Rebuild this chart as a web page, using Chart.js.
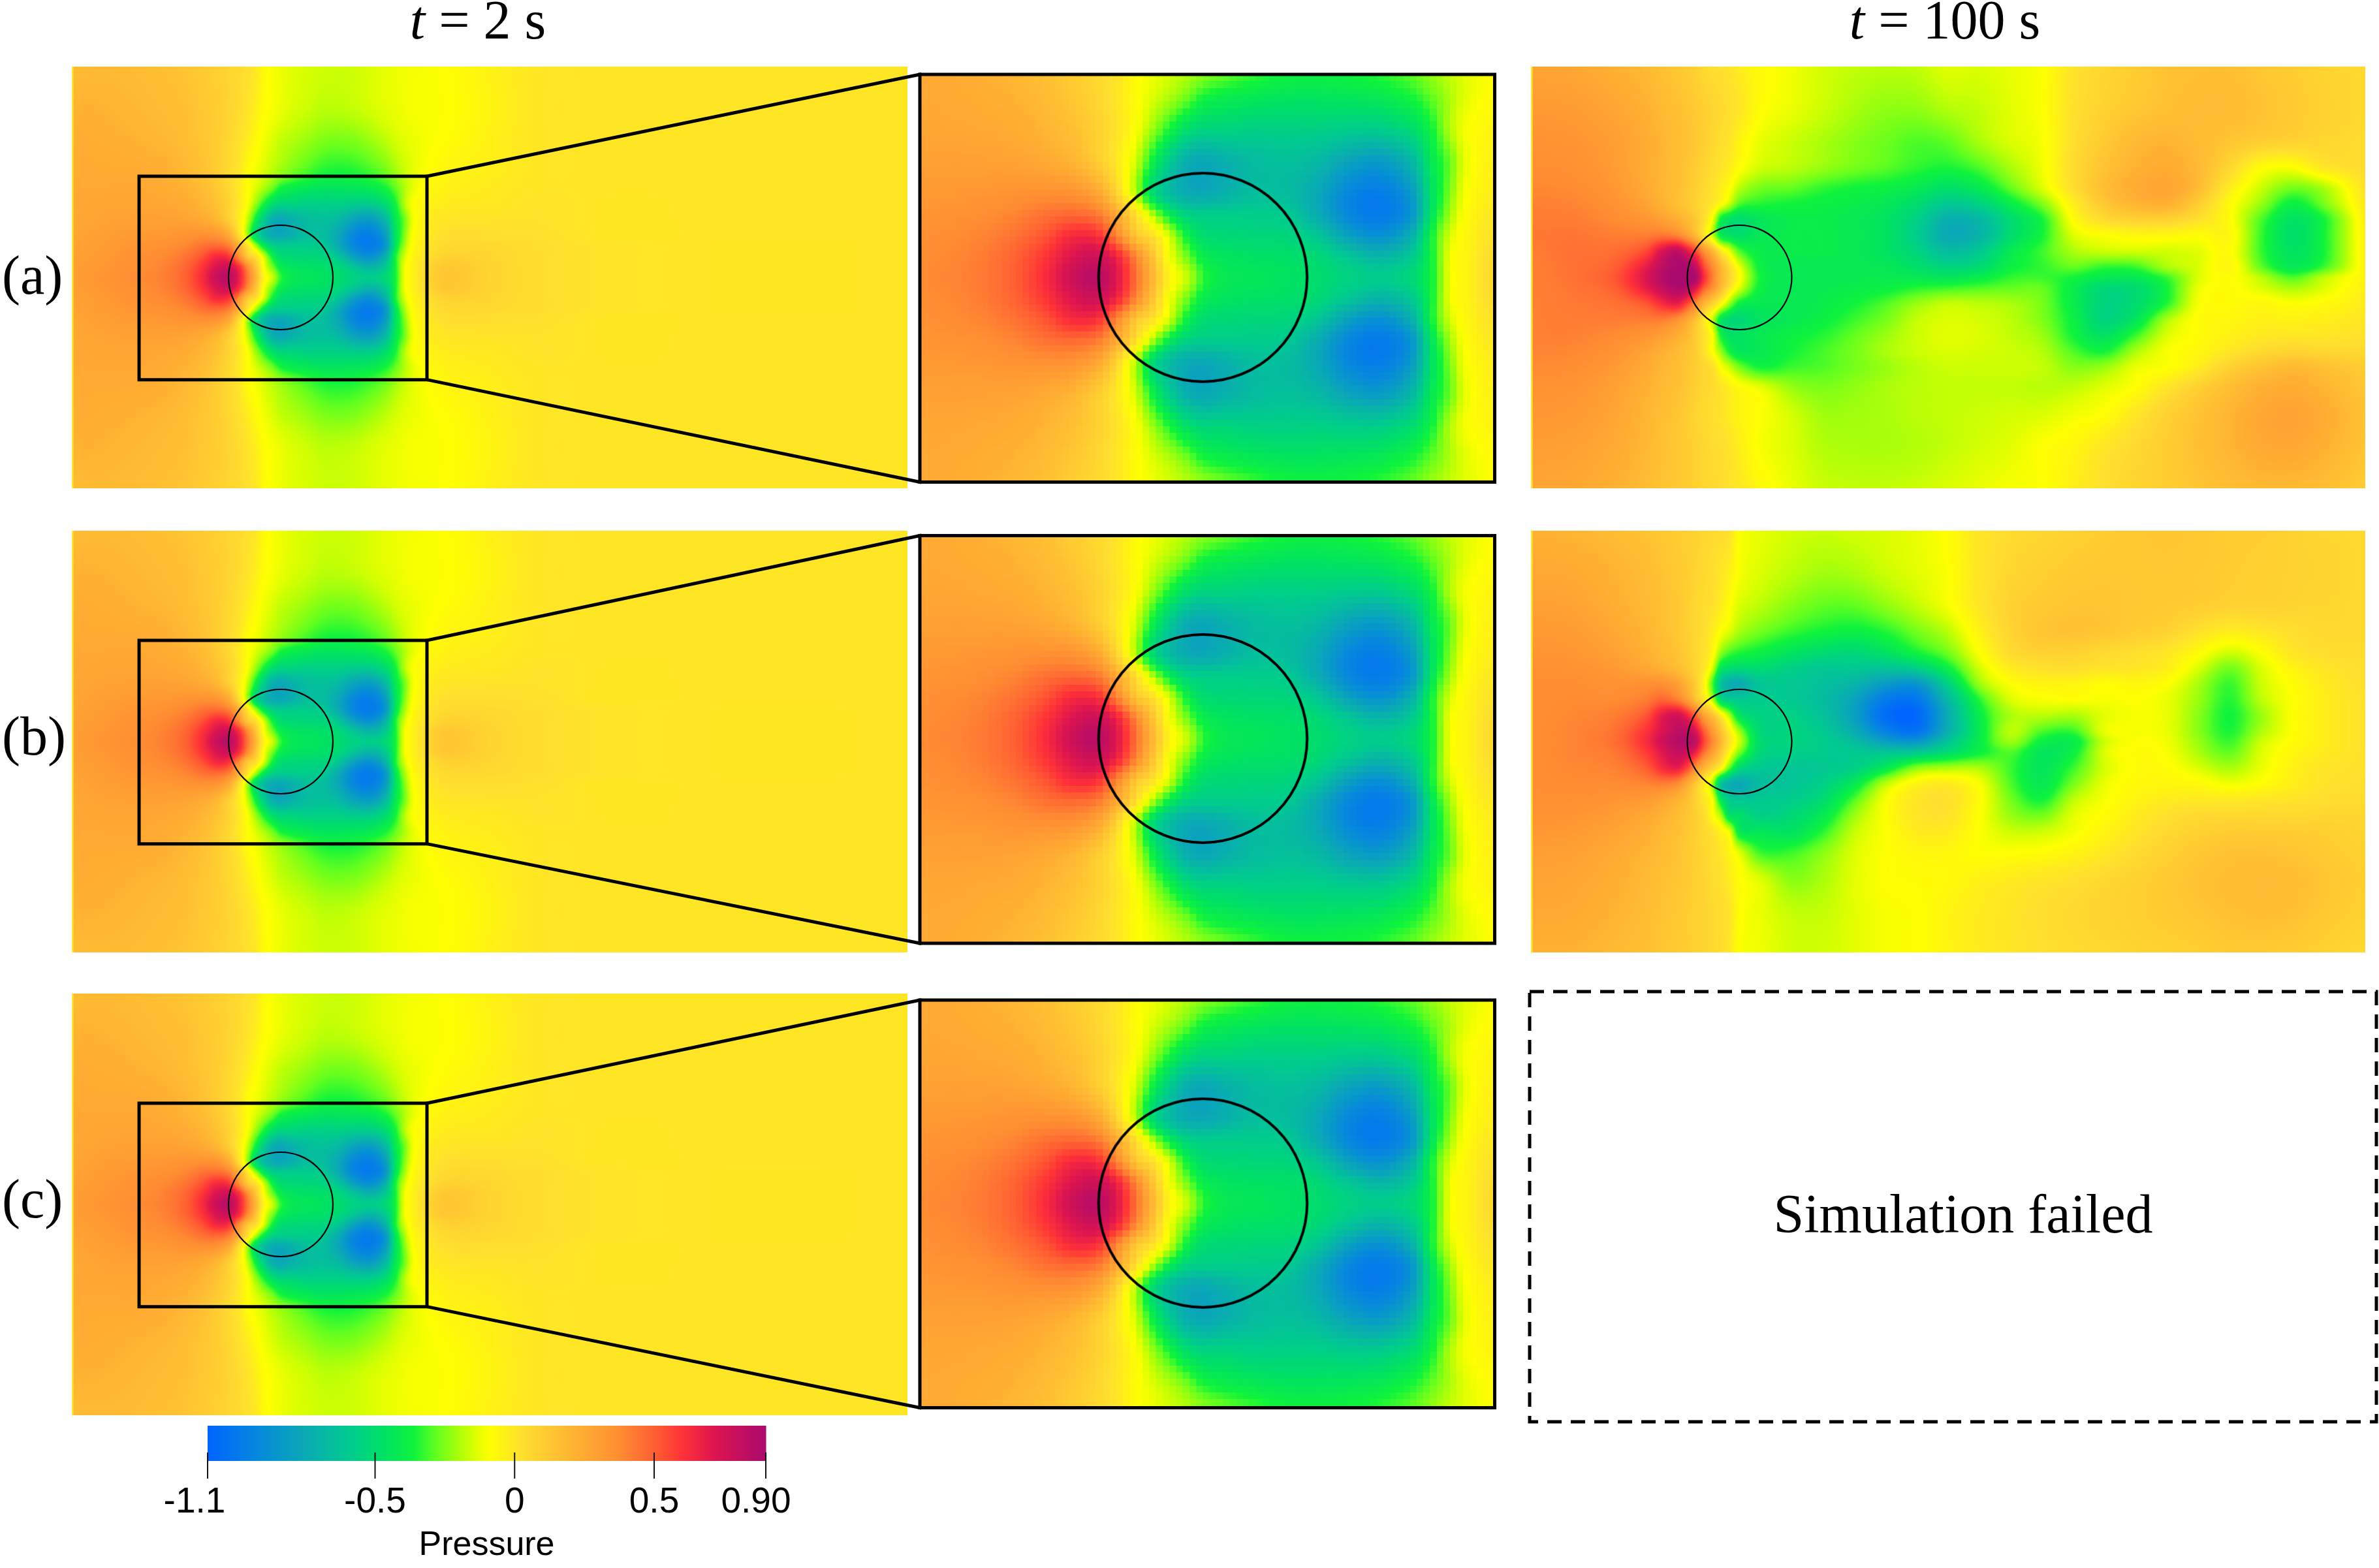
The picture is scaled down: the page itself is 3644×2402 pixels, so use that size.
<!DOCTYPE html>
<html>
<head>
<meta charset="utf-8">
<title>Pressure fields</title>
<script src="https://cdn.jsdelivr.net/npm/chart.js@4/dist/chart.umd.min.js"></script>
<style>
  html, body { margin:0; padding:0; background:#fff; width:3644px; height:2402px; overflow:hidden; }
  canvas { position:absolute; display:block; }
  .txt { position:absolute; font-family:"Liberation Serif",serif; font-size:84px; line-height:84px; color:#000; white-space:pre; }
  .txt i { font-style:italic; }
</style>
</head>
<body>
<div class="txt" style="left:732px;top:-11px;transform:translateX(-50%)"><i>t</i> = 2 s</div>
<div class="txt" style="left:2979px;top:-11px;transform:translateX(-50%)"><i>t</i> = 100 s</div>
<div class="txt" style="left:3px;top:380px">(a)</div>
<div class="txt" style="left:3px;top:1086px">(b)</div>
<div class="txt" style="left:3px;top:1795px">(c)</div>
<div class="txt" style="left:3007px;top:1818px;transform:translateX(-50%)">Simulation failed</div>
<script>
// ═══════════════════════════════════════════════════════════════
//  DATA  — pressure, x/y in cylinder diameters
// ═══════════════════════════════════════════════════════════════

const CMAP_VALUES = [-1.1, -0.95, -0.75, -0.58, -0.47, -0.36, -0.28, -0.2, -0.14, -0.09, 0.02, 0.14, 0.25, 0.38, 0.5, 0.6, 0.72, 0.9];
const CMAP_COLORS = [
  [0,100,255],[5,130,228],[10,170,180],[0,205,140],[0,225,100],[15,243,60],[100,255,30],[170,255,10],
  [220,255,0],[255,255,0],[255,225,45],[255,195,50],[255,170,50],[255,140,50],[255,95,50],[255,50,55],[220,20,80],[170,10,110]
];

const BAR_TICKS  = [-1.1, -0.5, 0, 0.5, 0.9];
const BAR_LABELS = ['-1.1', '-0.5', '0', '0.5', '0.90'];
const BAR_SHIFT  = [-20, 0, 0, 0, -15];

// t = 2 s: same field in all three rows, symmetric about y = 0, upper half kept
const X_T2 = [-2,-1.7,-1.36,-1.1,-.9,-.75,-.62,-.5,-.4,-.32,-.24,-.16,-.08,0,.1,.25,.4,.55,.7,.85,1,1.1,1.18,1.26,1.4,1.6,2,2.5,3,4,6];
const Y_T2_HALF = [2,1.6,1.3,.975,.85,.7,.55,.4,.3,.2,.1,0];
const P_T2_HALF = [
  [.17,.18,.17,.15,.13,.11,.09,.07,.05,.02,0,-.07,-.1,-.115,-.13,-.145,-.155,-.16,-.155,-.14,-.125,-.115,-.11,-.105,-.1,-.085,-.04,0,0,0,0],
  [.22,.21,.19,.17,.15,.12,.1,.07,.04,.01,-.03,-.08,-.1,-.12,-.14,-.16,-.18,-.18,-.17,-.15,-.13,-.12,-.11,-.1,-.1,-.09,-.05,0,0,0,0],
  [.24,.23,.21,.19,.16,.13,.1,.06,.02,-.02,-.07,-.11,-.14,-.17,-.19,-.22,-.25,-.26,-.25,-.22,-.18,-.15,-.13,-.12,-.1,-.08,-.04,0,0,0,0],
  [.25,.25,.25,.23,.19,.15,.1,.05,0,-.08,-.11,-.15,-.19,-.23,-.27,-.32,-.36,-.37,-.36,-.33,-.28,-.22,-.17,-.13,-.09,-.05,-.03,0,0,0,0],
  [.26,.26,.26,.24,.21,.17,.12,.06,-.01,-.08,-.14,-.2,-.27,-.36,-.4,-.43,-.45,-.45,-.44,-.42,-.36,-.28,-.2,-.13,-.07,-.04,-.02,0,0,0,0],
  [.26,.27,.27,.26,.24,.2,.15,.08,0,-.09,-.22,-.36,-.48,-.54,-.54,-.56,-.56,-.56,-.58,-.58,-.5,-.36,-.2,-.1,-.05,-.02,-.01,.01,0,0,0],
  [.26,.28,.29,.29,.28,.25,.2,.1,-.02,-.16,-.38,-.58,-.72,-.76,-.72,-.66,-.64,-.68,-.78,-.82,-.68,-.42,-.28,-.12,-.03,0,.01,.01,0,0,0],
  [.27,.3,.32,.33,.35,.36,.35,.26,.04,-.2,-.5,-.66,-.74,-.76,-.72,-.65,-.66,-.76,-.92,-.97,-.82,-.46,-.26,-.1,-.02,.03,.03,.02,0,0,0],
  [.28,.31,.34,.36,.4,.45,.47,.42,.22,.02,-.2,-.42,-.55,-.58,-.58,-.58,-.6,-.74,-.92,-.98,-.85,-.44,-.22,-.08,0,.05,.05,.03,.01,0,0],
  [.29,.32,.36,.39,.45,.53,.63,.6,.36,.12,.02,-.16,-.38,-.5,-.52,-.53,-.54,-.62,-.8,-.88,-.72,-.36,-.16,-.06,.02,.08,.06,.03,.01,0,0],
  [.3,.33,.37,.41,.49,.6,.72,.76,.62,.38,.14,-.1,-.26,-.4,-.45,-.47,-.48,-.52,-.62,-.7,-.6,-.36,-.12,-.05,.05,.12,.07,.03,.01,0,0],
  [.3,.34,.38,.42,.5,.63,.78,.84,.68,.45,.2,-.05,-.16,-.33,-.42,-.44,-.46,-.5,-.55,-.58,-.52,-.36,-.12,-.05,.06,.13,.07,.03,.01,0,0]
];

// t = 100 s, rows (a) and (b)
const X_T100 = [-2,-1.6,-1.2,-.9,-.75,-.6,-.5,-.42,-.34,-.26,-.18,-.1,0,.2,.5,.8,1.1,1.4,1.7,2,2.3,2.6,2.9,3.2,3.5,3.8,4.1,4.4,4.7,5,5.3,5.6,6];
const Y_T100 = [2,1.6,1.3,1.05,.85,.7,.55,.4,.25,.1,0,-.1,-.25,-.4,-.55,-.7,-.85,-1.05,-1.3,-1.6,-2];
const P_T100_A = [
  [.27,.26,.22,.18,.15,.12,.1,.08,.05,.03,.02,.01,-.02,-.07,-.11,-.15,-.17,-.18,-.17,-.13,-.14,-.12,-.09,.01,.06,.1,.14,.15,.15,.12,.1,.07,.05],
  [.32,.31,.27,.22,.18,.15,.13,.11,.09,.07,.05,.03,0,-.08,-.12,-.16,-.2,-.23,-.23,-.19,-.17,-.13,-.09,.02,.08,.12,.15,.17,.17,.14,.11,.08,.05],
  [.35,.34,.3,.24,.2,.16,.14,.12,.09,.06,.03,.01,-.05,-.12,-.16,-.2,-.24,-.27,-.3,-.28,-.2,-.14,-.1,.03,.11,.18,.2,.17,.13,.1,.08,.06,.04],
  [.37,.36,.31,.24,.2,.16,.13,.1,.07,.04,.01,-.02,-.08,-.15,-.18,-.22,-.26,-.29,-.33,-.35,-.3,-.2,-.11,.04,.14,.21,.24,.18,.06,-.07,-.09,0,.04],
  [.39,.38,.33,.25,.2,.16,.12,.09,.05,.02,-.03,-.08,-.18,-.26,-.28,-.33,-.36,-.38,-.42,-.48,-.42,-.28,-.14,.03,.16,.24,.27,.17,-.02,-.16,-.26,-.2,.02],
  [.41,.4,.35,.28,.22,.16,.12,.08,.04,0,-.07,-.16,-.3,-.34,-.36,-.38,-.4,-.43,-.5,-.6,-.55,-.4,-.25,-.03,.12,.2,.22,.1,-.07,-.22,-.38,-.26,0],
  [.42,.42,.38,.34,.3,.24,.18,.12,.03,-.1,-.38,-.46,-.5,-.44,-.4,-.4,-.42,-.46,-.56,-.72,-.68,-.5,-.36,-.08,.04,.08,.08,.02,-.08,-.3,-.46,-.36,-.02],
  [.43,.44,.42,.42,.44,.4,.3,.18,.02,-.16,-.4,-.46,-.48,-.43,-.4,-.4,-.42,-.46,-.58,-.75,-.7,-.5,-.36,-.14,-.09,-.06,-.06,-.08,-.06,-.32,-.48,-.36,-.03],
  [.42,.45,.46,.55,.72,.82,.7,.55,.35,.2,0,-.12,-.3,-.4,-.4,-.4,-.42,-.46,-.54,-.66,-.6,-.42,-.32,-.2,-.16,-.15,-.15,-.13,-.08,-.32,-.46,-.36,-.03],
  [.41,.45,.5,.68,.82,.9,.9,.8,.55,.38,.2,.05,-.12,-.38,-.42,-.42,-.42,-.43,-.48,-.54,-.5,-.38,-.33,-.28,-.33,-.32,-.2,-.14,-.06,-.28,-.42,-.32,-.04],
  [.41,.45,.52,.72,.85,.92,.92,.88,.62,.42,.22,.08,-.08,-.36,-.42,-.42,-.41,-.41,-.42,-.44,-.4,-.33,-.32,-.36,-.42,-.42,-.32,-.14,-.08,-.18,-.3,-.18,-.04],
  [.41,.44,.5,.68,.8,.88,.85,.72,.5,.35,.18,.02,-.14,-.38,-.42,-.41,-.4,-.38,-.34,-.32,-.3,-.28,-.28,-.4,-.52,-.5,-.36,-.12,-.08,-.14,-.2,-.14,-.03],
  [.41,.43,.45,.52,.62,.68,.55,.38,.2,.08,-.06,-.22,-.38,-.42,-.42,-.4,-.36,-.3,-.22,-.17,-.18,-.2,-.26,-.4,-.54,-.5,-.34,-.1,-.08,-.06,-.09,-.07,-.02],
  [.41,.42,.42,.42,.42,.36,.26,.15,0,-.16,-.42,-.5,-.52,-.46,-.42,-.38,-.32,-.26,-.17,-.14,-.15,-.18,-.25,-.38,-.54,-.44,-.2,-.08,-.06,-.04,-.04,-.03,0],
  [.41,.41,.38,.34,.3,.24,.18,.1,.02,-.09,-.36,-.46,-.46,-.42,-.38,-.34,-.28,-.22,-.16,-.13,-.14,-.17,-.22,-.36,-.46,-.32,-.14,-.08,-.04,-.01,0,0,.02],
  [.4,.39,.35,.28,.23,.18,.14,.1,.02,-.09,-.22,-.36,-.44,-.42,-.36,-.31,-.26,-.2,-.16,-.14,-.15,-.16,-.19,-.3,-.36,-.2,-.1,-.06,0,.05,.07,.06,.05],
  [.38,.37,.32,.25,.2,.16,.13,.1,.06,.03,-.09,-.16,-.26,-.36,-.32,-.3,-.26,-.22,-.18,-.16,-.16,-.16,-.17,-.24,-.22,-.12,-.09,-.02,.08,.14,.18,.15,.1],
  [.35,.34,.29,.22,.18,.15,.12,.09,.06,.04,.01,-.03,-.07,-.12,-.22,-.25,-.23,-.2,-.18,-.17,-.17,-.17,-.18,-.17,-.13,-.08,.01,.09,.16,.22,.24,.2,.12],
  [.33,.32,.27,.2,.16,.13,.1,.07,.05,.03,.01,-.02,-.05,-.09,-.15,-.21,-.21,-.2,-.18,-.17,-.16,-.15,-.14,-.11,-.08,0,.08,.14,.2,.26,.28,.24,.14],
  [.3,.29,.25,.19,.15,.12,.1,.08,.06,.04,.03,.01,-.03,-.1,-.14,-.19,-.2,-.2,-.19,-.17,-.15,-.13,-.09,-.06,0,.05,.1,.15,.2,.25,.26,.22,.13],
  [.27,.26,.22,.17,.14,.12,.1,.08,.06,.05,.04,.02,0,-.06,-.12,-.16,-.17,-.17,-.16,-.14,-.12,-.1,-.09,-.03,.03,.07,.1,.13,.16,.18,.18,.16,.1]
];
const P_T100_B = [
  [.22,.2,.17,.14,.12,.1,.09,.08,.06,.05,.04,.02,-.09,-.12,-.15,-.16,-.15,-.14,-.12,-.08,0,.04,.06,.08,.1,.12,.13,.12,.1,.1,.08,.06,.05],
  [.26,.25,.21,.17,.14,.11,.09,.07,.05,.03,0,-.03,-.1,-.14,-.18,-.21,-.2,-.16,-.13,-.09,0,.06,.09,.11,.12,.12,.12,.11,.1,.09,.08,.07,.05],
  [.29,.28,.23,.18,.15,.12,.09,.06,.04,.02,-.02,-.08,-.14,-.18,-.24,-.28,-.28,-.23,-.17,-.1,0,.08,.11,.13,.13,.12,.11,.1,.08,.08,.07,.06,.05],
  [.32,.31,.26,.2,.16,.12,.09,.06,.03,-.02,-.09,-.13,-.2,-.26,-.32,-.36,-.38,-.34,-.26,-.18,-.04,.07,.13,.14,.13,.1,.08,.02,-.02,0,.03,.05,.05],
  [.34,.33,.29,.22,.18,.14,.1,.06,.02,-.06,-.22,-.3,-.34,-.38,-.45,-.5,-.52,-.46,-.36,-.26,-.09,.04,.08,.08,.05,.03,0,-.07,-.15,-.09,0,.03,.04],
  [.36,.35,.32,.26,.22,.17,.12,.07,0,-.14,-.42,-.48,-.5,-.5,-.56,-.6,-.6,-.62,-.56,-.38,-.15,-.02,.02,.03,.01,0,-.03,-.14,-.26,-.14,-.05,0,.03],
  [.37,.37,.35,.36,.36,.3,.2,.1,-.05,-.3,-.62,-.72,-.74,-.62,-.6,-.64,-.7,-.82,-.85,-.55,-.22,-.09,-.05,-.05,-.08,-.06,-.09,-.2,-.32,-.16,-.08,-.02,.03],
  [.37,.38,.38,.42,.48,.42,.3,.15,0,-.18,-.5,-.58,-.6,-.58,-.6,-.66,-.78,-.98,-1,-.68,-.34,-.14,-.1,-.09,-.1,-.09,-.12,-.22,-.34,-.18,-.09,-.03,.02],
  [.37,.39,.42,.52,.68,.75,.65,.48,.28,.15,-.02,-.2,-.45,-.55,-.56,-.64,-.8,-1.05,-1.08,-.74,-.4,-.2,-.18,-.2,-.13,-.1,-.12,-.24,-.36,-.22,-.09,-.03,.02],
  [.37,.4,.45,.6,.72,.82,.82,.72,.5,.32,.15,-.02,-.22,-.52,-.54,-.6,-.74,-.95,-1.02,-.72,-.42,-.18,-.3,-.32,-.12,-.1,-.12,-.24,-.35,-.2,-.09,-.03,.02],
  [.37,.4,.46,.62,.76,.85,.86,.8,.56,.38,.2,.02,-.16,-.5,-.54,-.58,-.66,-.8,-.84,-.62,-.4,-.22,-.38,-.4,-.16,-.09,-.11,-.22,-.32,-.16,-.08,-.03,.02],
  [.37,.4,.44,.58,.7,.8,.78,.66,.46,.3,.12,-.05,-.25,-.52,-.56,-.58,-.6,-.62,-.6,-.5,-.38,-.3,-.44,-.38,-.14,-.08,-.1,-.2,-.28,-.14,-.06,-.02,.02],
  [.37,.39,.41,.5,.62,.68,.55,.36,.2,.08,-.05,-.28,-.5,-.6,-.62,-.6,-.56,-.42,-.24,-.2,-.2,-.32,-.44,-.32,-.15,-.08,-.08,-.14,-.2,-.12,-.04,0,.02],
  [.37,.38,.38,.4,.42,.38,.25,.12,-.02,-.2,-.6,-.72,-.76,-.66,-.62,-.56,-.42,-.18,-.05,-.02,-.1,-.3,-.42,-.26,-.12,-.07,-.06,-.07,-.11,-.08,-.03,.01,.03],
  [.36,.36,.34,.32,.28,.22,.16,.08,0,-.1,-.42,-.58,-.62,-.6,-.58,-.5,-.3,-.1,0,.02,-.08,-.26,-.36,-.18,-.1,-.05,-.02,-.01,-.01,0,.01,.03,.04],
  [.35,.34,.31,.26,.22,.17,.13,.09,.04,-.08,-.2,-.46,-.48,-.56,-.52,-.42,-.22,-.09,0,.01,-.09,-.22,-.26,-.13,-.08,-.02,.02,.05,.05,.05,.05,.06,.06],
  [.33,.32,.28,.23,.19,.15,.12,.09,.05,.02,-.05,-.12,-.42,-.44,-.46,-.34,-.17,-.09,-.02,-.02,-.09,-.16,-.16,-.11,-.05,0,.05,.08,.1,.1,.1,.09,.07],
  [.3,.29,.25,.2,.17,.14,.11,.09,.06,.03,0,-.05,-.14,-.32,-.32,-.24,-.14,-.09,-.06,-.06,-.09,-.09,-.08,-.05,-.01,.04,.08,.12,.14,.14,.13,.11,.08],
  [.28,.27,.23,.18,.15,.13,.11,.09,.07,.04,.02,-.02,-.08,-.14,-.24,-.2,-.13,-.09,-.08,-.07,-.04,-.02,0,.02,.05,.08,.11,.14,.16,.17,.16,.13,.09],
  [.26,.25,.21,.17,.14,.12,.1,.08,.07,.05,.03,.01,-.08,-.12,-.17,-.17,-.13,-.1,-.09,-.05,-.02,0,.03,.05,.07,.09,.11,.13,.15,.16,.15,.12,.08],
  [.22,.21,.18,.15,.13,.11,.1,.08,.07,.05,.03,0,-.09,-.11,-.15,-.15,-.13,-.1,-.09,-.05,-.02,0,.02,.04,.05,.07,.08,.09,.11,.11,.1,.08,.05]
];

// Zoom window shown in the middle column, in the same data units
const BOX_X = [-1.356, 1.4];
const BOX_Y = [-0.97, 0.96];
const BOX_PATH_X = [BOX_X[0], BOX_X[1], BOX_X[1], BOX_X[0], BOX_X[0]];
const BOX_PATH_Y = [BOX_Y[1], BOX_Y[1], BOX_Y[0], BOX_Y[0], BOX_Y[1]];

// ═══════════════════════════════════════════════════════════════
//  PAGE LAYOUT  (pixels)
// ═══════════════════════════════════════════════════════════════

const ROW_TOP   = [102, 813, 1522];
const ZOOM_TOP  = [114, 820.5, 1532];
const PANEL     = { w:1280, h:646, left:110, right:2345 };
const ZOOM      = { left:1409, w:880.5, h:624.5 };
const FAILED    = { x0:2343, x1:3640, y0:1519, y1:2178 };
const ZOOM_MESH = 0.032;   // solver cells show up at this magnification

// ═══════════════════════════════════════════════════════════════
//  COLOUR + FIELD SAMPLING
// ═══════════════════════════════════════════════════════════════

const LUT_SIZE = 2048;
const LUT_MIN  = CMAP_VALUES[0];
const LUT_MAX  = CMAP_VALUES[CMAP_VALUES.length - 1];

function colorAt(v) {
  if (v <= LUT_MIN) return CMAP_COLORS[0];
  if (v >= LUT_MAX) return CMAP_COLORS[CMAP_COLORS.length - 1];
  let i = 0;
  while (CMAP_VALUES[i + 1] < v) i++;
  const s = (v - CMAP_VALUES[i]) / (CMAP_VALUES[i + 1] - CMAP_VALUES[i]);
  return CMAP_COLORS[i].map((c, k) => c + (CMAP_COLORS[i + 1][k] - c) * s);
}

const LUT = [];
for (let i = 0; i < LUT_SIZE; i++) LUT.push(colorAt(LUT_MIN + (LUT_MAX - LUT_MIN) * i / (LUT_SIZE - 1)));

// Smooth display of the node values, same idea as the renderer's shading
function weights(nodes, t) {
  const last = nodes.length - 1;
  t = Math.min(nodes[last], Math.max(nodes[0], t));
  let i = 0;
  while (i < last - 1 && nodes[i + 1] < t) i++;
  const h  = nodes[i + 1] - nodes[i];
  const s  = (t - nodes[i]) / h;
  const s2 = s * s, s3 = s2 * s;
  const lo = Math.max(i - 1, 0), hi = Math.min(i + 2, last);
  const a  = (s3 - 2 * s2 + s) * h / (nodes[i + 1] - nodes[lo]);
  const b  = (s3 - s2) * h / (nodes[hi] - nodes[i]);
  return { idx:[lo, i, i + 1, hi], w:[-a, 2 * s3 - 3 * s2 + 1 - b, a - 2 * s3 + 3 * s2, b] };
}

function heatPlugin(xs, ys, rows, mesh) {
  const yAsc = ys.map(y => -y);   // rows are stored top to bottom
  const snap = v => mesh ? (Math.floor(v / mesh) + 0.5) * mesh : v;
  return {
    id: 'heat',
    beforeDatasetsDraw(chart) {
      const { ctx, chartArea: area, scales: { x, y } } = chart;
      const W = Math.round(area.right - area.left), H = Math.round(area.bottom - area.top);
      const buf = document.createElement('canvas');
      buf.width = W; buf.height = H;
      const bctx = buf.getContext('2d');
      const img = bctx.createImageData(W, H);
      const wx = [], wy = [];
      for (let px = 0; px < W; px++) wx.push(weights(xs, snap(x.getValueForPixel(area.left + px + 0.5))));
      for (let py = 0; py < H; py++) wy.push(weights(yAsc, -snap(y.getValueForPixel(area.top + py + 0.5))));
      let o = 0;
      for (let py = 0; py < H; py++) {
        const wr = wy[py];
        for (let px = 0; px < W; px++) {
          const wc = wx[px];
          let v = 0;
          for (let b = 0; b < 4; b++) {
            const row = rows[wr.idx[b]];
            for (let a = 0; a < 4; a++) v += wr.w[b] * wc.w[a] * row[wc.idx[a]];
          }
          const k = Math.max(0, Math.min(LUT_SIZE - 1, Math.round((v - LUT_MIN) / (LUT_MAX - LUT_MIN) * (LUT_SIZE - 1))));
          const c = LUT[k];
          img.data[o++] = c[0]; img.data[o++] = c[1]; img.data[o++] = c[2]; img.data[o++] = 255;
        }
      }
      bctx.putImageData(img, 0, 0);
      ctx.drawImage(buf, area.left, area.top);
    }
  };
}

// ═══════════════════════════════════════════════════════════════
//  CHARTS
// ═══════════════════════════════════════════════════════════════

function addCanvas(left, top, w, h) {
  const c = document.createElement('canvas');
  c.width = w; c.height = h;
  c.style.left = left + 'px'; c.style.top = top + 'px';
  c.style.width = w + 'px'; c.style.height = h + 'px';
  document.body.appendChild(c);
  return c;
}

function panelOptions(xr, yr) {
  return {
    responsive:false, animation:false, devicePixelRatio:1,
    layout:{ padding:0, autoPadding:false },
    plugins:{ legend:{ display:false }, tooltip:{ enabled:false } },
    scales:{
      x:{ type:'linear', display:false, min:xr[0], max:xr[1] },
      y:{ type:'linear', display:false, min:yr[0], max:yr[1] }
    }
  };
}

function cylinder(radius, width) {
  return { label:'Cylinder', data:[{ x:0, y:0 }], pointRadius:radius, pointBorderWidth:width,
           pointBorderColor:'#000', pointBackgroundColor:'rgba(0,0,0,0)', clip:false };
}

function inletEdge() {
  return { label:'Inlet', data:[{ x:-2, y:-2 }, { x:-2, y:2 }], showLine:true, borderColor:'#ffe62e',
           borderWidth:5, pointRadius:0 };
}

function fieldPanel(left, top, w, h, xr, yr, xs, ys, rows, extra, mesh) {
  new Chart(addCanvas(left, top, w, h), {
    type:'scatter',
    data:{ datasets:extra },
    options:panelOptions(xr, yr),
    plugins:[heatPlugin(xs, ys, rows, mesh)]
  });
}

const Y_T2 = Y_T2_HALF.concat(Y_T2_HALF.slice(0, -1).reverse().map(y => -y));
const P_T2 = P_T2_HALF.concat(P_T2_HALF.slice(0, -1).reverse());

const boxPath = BOX_PATH_X.map((x, i) => ({ x, y:BOX_PATH_Y[i] }));

ROW_TOP.forEach((top, r) => {
  // left column, t = 2 s with the zoom window drawn on it
  fieldPanel(PANEL.left, top, PANEL.w, PANEL.h, [-2, 6], [-2, 2], X_T2, Y_T2, P_T2, [
    inletEdge(),
    { label:'Zoom window', data:boxPath, showLine:true, borderColor:'#000', borderWidth:5,
      pointRadius:0, borderJoinStyle:'miter', borderCapStyle:'square', tension:0 },
    cylinder(80, 2.2)
  ]);
  // middle column, the same field inside the window
  fieldPanel(ZOOM.left, ZOOM_TOP[r], ZOOM.w, ZOOM.h, BOX_X, BOX_Y, X_T2, Y_T2, P_T2, [cylinder(159.5, 4)], ZOOM_MESH);
});

// right column, t = 100 s
fieldPanel(PANEL.right, ROW_TOP[0], PANEL.w - 2, PANEL.h, [-2, 6], [-2, 2], X_T100, Y_T100, P_T100_A, [inletEdge(), cylinder(80, 2.2)]);
fieldPanel(PANEL.right, ROW_TOP[1], PANEL.w - 2, PANEL.h, [-2, 6], [-2, 2], X_T100, Y_T100, P_T100_B, [inletEdge(), cylinder(80, 2.2)]);

// ── Overlay – connectors, zoom frames, failed-run box ──────────
const BOX_RIGHT = PANEL.left + (BOX_X[1] + 2) * PANEL.w / 8;
const overlaySets = [];
const blackLine = pts => ({ data:pts, showLine:true, borderColor:'#000', borderWidth:5, pointRadius:0,
                            borderJoinStyle:'miter', borderCapStyle:'square', tension:0, clip:false });
ROW_TOP.forEach((top, r) => {
  const boxTop = top + (2 - BOX_Y[1]) * PANEL.h / 4, boxBot = top + (2 - BOX_Y[0]) * PANEL.h / 4;
  const zt = ZOOM_TOP[r], zb = zt + ZOOM.h, zl = ZOOM.left, zr = zl + ZOOM.w;
  overlaySets.push(blackLine([{ x:BOX_RIGHT, y:boxTop }, { x:zl, y:zt }]));
  overlaySets.push(blackLine([{ x:BOX_RIGHT, y:boxBot }, { x:zl, y:zb }]));
  overlaySets.push(blackLine([{ x:zl, y:zt }, { x:zr, y:zt }, { x:zr, y:zb }, { x:zl, y:zb }, { x:zl, y:zt }]));
});
overlaySets.push(Object.assign(blackLine([
  { x:FAILED.x0, y:FAILED.y0 }, { x:FAILED.x1, y:FAILED.y0 }, { x:FAILED.x1, y:FAILED.y1 },
  { x:FAILED.x0, y:FAILED.y1 }, { x:FAILED.x0, y:FAILED.y0 }
]), { borderDash:[22, 14], borderCapStyle:'butt' }));

const overlayCanvas = addCanvas(0, 0, 3644, 2402);
overlayCanvas.style.pointerEvents = 'none';
const overlayOpts = panelOptions([0, 3644], [0, 2402]);
overlayOpts.scales.y.reverse = true;
new Chart(overlayCanvas, { type:'scatter', data:{ datasets:overlaySets }, options:overlayOpts });

// ── Colour bar ─────────────────────────────────────────────────
const barPlugin = {
  id: 'bar',
  beforeDatasetsDraw(chart) {
    const { ctx, chartArea: area, scales: { x } } = chart;
    for (let px = Math.floor(area.left); px < area.right; px++) {
      const c = colorAt(x.getValueForPixel(px + 0.5));
      ctx.fillStyle = `rgb(${c[0]},${c[1]},${c[2]})`;
      ctx.fillRect(px, area.top, 1.5, area.bottom - area.top);
    }
  },
  afterDraw(chart) {
    const { ctx, chartArea: area, scales: { x } } = chart;
    ctx.save();
    ctx.strokeStyle = '#111'; ctx.lineWidth = 2;
    ctx.fillStyle = '#000'; ctx.font = '55px "Liberation Sans"';
    ctx.textAlign = 'center'; ctx.textBaseline = 'alphabetic';
    x.ticks.forEach((t, i) => {
      const px = x.getPixelForTick(i);
      ctx.beginPath(); ctx.moveTo(px, area.bottom - 13); ctx.lineTo(px, area.bottom + 27); ctx.stroke();
      ctx.fillText(BAR_LABELS[i], px + BAR_SHIFT[i], area.bottom + 79);
    });
    ctx.restore();
  }
};

const barCanvas = addCanvas(230, 2170, 1050, 232);
const barOpts = panelOptions([BAR_TICKS[0], BAR_TICKS[BAR_TICKS.length - 1]], [0, 1]);
barOpts.layout.padding = { left:88, right:107, top:14, bottom:0 };
barOpts.scales.x = {
  type:'linear', display:true, min:BAR_TICKS[0], max:BAR_TICKS[BAR_TICKS.length - 1],
  grid:{ display:false }, border:{ display:false },
  ticks:{ display:false },
  afterBuildTicks(scale) { scale.ticks = BAR_TICKS.map(value => ({ value })); },
  afterFit(scale) { scale.height = 164; },
  title:{ display:true, text:'Pressure', color:'#000', font:{ family:'"Liberation Sans"', size:52 }, padding:{ top:0, bottom:3 } }
};
new Chart(barCanvas, { type:'scatter', data:{ datasets:[] }, options:barOpts, plugins:[barPlugin] });
</script>
</body>
</html>
